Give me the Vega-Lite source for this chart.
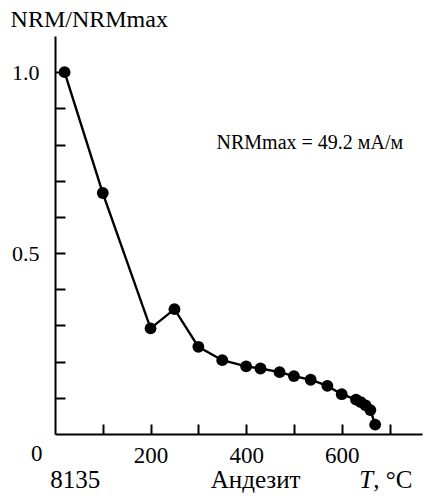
{
  "$schema": "https://vega.github.io/schema/vega-lite/v6.json",
  "autosize": {"type": "none"},
  "width": 367,
  "height": 398,
  "padding": {"left": 55, "top": 36, "right": 8, "bottom": 64},
  "background": "white",
  "config": {
    "view": {"stroke": null},
    "axis": {
      "grid": false,
      "domainColor": "black",
      "domainWidth": 2,
      "tickColor": "black",
      "tickWidth": 2,
      "tickSize": -10,
      "labelFont": "'Liberation Serif', 'Times New Roman', serif",
      "labelFontSize": 22,
      "labelColor": "black",
      "title": null
    },
    "text": {"font": "'Liberation Serif', 'Times New Roman', serif", "color": "black"}
  },
  "data": {
    "values": [
      {"T": 20, "v": 1.0},
      {"T": 100, "v": 0.666},
      {"T": 200, "v": 0.292},
      {"T": 250, "v": 0.345},
      {"T": 300, "v": 0.241},
      {"T": 350, "v": 0.204},
      {"T": 400, "v": 0.187},
      {"T": 430, "v": 0.181},
      {"T": 470, "v": 0.171},
      {"T": 500, "v": 0.16},
      {"T": 535, "v": 0.15},
      {"T": 570, "v": 0.133},
      {"T": 600, "v": 0.11},
      {"T": 630, "v": 0.095},
      {"T": 640, "v": 0.088},
      {"T": 650, "v": 0.079},
      {"T": 660, "v": 0.066},
      {"T": 670, "v": 0.026}
    ]
  },
  "layer": [
    {
      "mark": {"type": "line", "color": "black", "strokeWidth": 2.4},
      "encoding": {
        "x": {"field": "T", "type": "quantitative",
          "scale": {"domain": [0, 768], "nice": false, "zero": false},
          "axis": {"values": [100, 200, 300, 400, 500, 600, 700],
            "labelExpr": "(datum.value == 200 || datum.value == 400 || datum.value == 600) ? datum.label : ''",
            "labelFontSize": 23,
            "labelPadding": 20, "labelBaseline": "top", "labelFlush": false}},
        "y": {"field": "v", "type": "quantitative",
          "scale": {"domain": [0, 1.1], "nice": false},
          "axis": {"values": [0.1, 0.2, 0.3, 0.4, 0.5, 0.6, 0.7, 0.8, 0.9, 1.0],
            "format": ".1f",
            "labelExpr": "(datum.value == 0.5 || datum.value == 1) ? datum.label : ''",
            "labelPadding": 26, "labelFlush": false}}
      }
    },
    {
      "mark": {"type": "point", "filled": true, "color": "black", "size": 140, "opacity": 1},
      "encoding": {
        "x": {"field": "T", "type": "quantitative"},
        "y": {"field": "v", "type": "quantitative"}
      }
    },
    {
      "data": {"values": [{}]},
      "mark": {"type": "text", "fontSize": 24, "align": "left", "baseline": "middle"},
      "encoding": {"x": {"datum": -93}, "y": {"datum": 1.143}, "text": {"value": "NRM/NRMmax"}}
    },
    {
      "data": {"values": [{}]},
      "mark": {"type": "text", "fontSize": 20, "align": "left", "baseline": "middle"},
      "encoding": {"x": {"datum": 338}, "y": {"datum": 0.805}, "text": {"value": "NRMmax = 49.2 мА/м"}}
    },
    {
      "data": {"values": [{}]},
      "mark": {"type": "text", "fontSize": 23, "align": "center", "baseline": "middle"},
      "encoding": {"x": {"datum": -38}, "y": {"datum": -0.055}, "text": {"value": "0"}}
    },
    {
      "data": {"values": [{}]},
      "mark": {"type": "text", "fontSize": 25, "align": "left", "baseline": "alphabetic"},
      "encoding": {"x": {"datum": -10}, "y": {"datum": -0.15}, "text": {"value": "8135"}}
    },
    {
      "data": {"values": [{}]},
      "mark": {"type": "text", "fontSize": 25, "align": "left", "baseline": "alphabetic"},
      "encoding": {"x": {"datum": 326}, "y": {"datum": -0.15}, "text": {"value": "Андезит"}}
    },
    {
      "data": {"values": [{}]},
      "mark": {"type": "text", "fontSize": 25, "align": "right", "baseline": "alphabetic", "fontStyle": "italic"},
      "encoding": {"x": {"datum": 666}, "y": {"datum": -0.15}, "text": {"value": "T"}}
    },
    {
      "data": {"values": [{}]},
      "mark": {"type": "text", "fontSize": 25, "align": "left", "baseline": "alphabetic"},
      "encoding": {"x": {"datum": 666}, "y": {"datum": -0.15}, "text": {"value": ", °C"}}
    }
  ]
}
